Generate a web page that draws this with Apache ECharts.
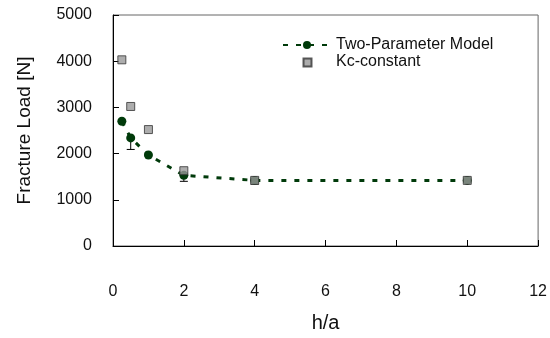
<!DOCTYPE html>
<html>
<head>
<meta charset="utf-8">
<script src="https://cdn.jsdelivr.net/npm/echarts@6/dist/echarts.min.js"></script>
<style>
  html, body { margin: 0; padding: 0; background: #fff; }
  #chart { width: 550px; height: 338px; }
</style>
</head>
<body>
<div id="chart"></div>
<script>
// h/a ratios tested
var ratios = [0.25, 0.5, 1, 2, 4, 10];
// Fracture load predicted by the two-parameter model [N]
var twoParam = [2700, 2340, 1970, 1530, 1420, 1420];
// Fracture load with constant Kc [N]
var kcConst = [4030, 3020, 2520, 1630, 1420, 1420];
// Lower end of the scatter bars on the model points [N] (null = none)
var errLow = [null, 2090, null, 1400, 1340, null];

var FONT = '"Liberation Sans", Arial, sans-serif';

var errData = [];
ratios.forEach(function (r, i) {
  if (errLow[i] != null) errData.push([r, errLow[i], twoParam[i]]);
});

// Small square centred in a wide legend slot (the stray move-to points set the box)
var squareIcon = 'path://M0 0M48 9M20.5 1h8v8h-8z';

var chart = echarts.init(document.getElementById('chart'), null, { renderer: 'canvas' });

chart.setOption({
  animation: false,
  backgroundColor: '#ffffff',
  textStyle: { fontFamily: FONT },
  grid: {
    left: 113, right: 10, top: 15, bottom: 88,
    show: true, borderColor: '#666', borderWidth: 1, backgroundColor: 'transparent'
  },
  legend: {
    left: 277, top: 32,
    orient: 'vertical',
    itemWidth: 48, itemHeight: 10, itemGap: 1,
    textStyle: { fontFamily: FONT, fontSize: 16, color: '#111' },
    data: [
      { name: 'Two-Parameter Model' },
      { name: 'Kc-constant', icon: squareIcon }
    ]
  },
  xAxis: {
    type: 'value', min: 0, max: 12, interval: 2,
    name: 'h/a', nameLocation: 'middle', nameGap: 67,
    nameTextStyle: { fontFamily: FONT, fontSize: 20, color: '#111' },
    axisLine: { show: true, onZero: false, lineStyle: { color: '#000', width: 1 } },
    axisTick: { show: true, inside: true, length: 6, lineStyle: { color: '#000' } },
    axisLabel: { margin: 38, fontFamily: FONT, fontSize: 16, color: '#111' },
    splitLine: { show: false }
  },
  yAxis: {
    type: 'value', min: 0, max: 5000, interval: 1000,
    name: 'Fracture Load [N]', nameLocation: 'middle', nameGap: 79, nameRotate: 90,
    nameTextStyle: { fontFamily: FONT, fontSize: 19, color: '#111' },
    axisLine: { show: true, lineStyle: { color: '#000', width: 1 } },
    axisTick: { show: true, inside: true, length: 6, lineStyle: { color: '#000' } },
    axisLabel: {
      margin: 21, fontFamily: FONT, fontSize: 16, color: '#111',
      formatter: function (v) { return String(v); }
    },
    splitLine: { show: false }
  },
  series: [
    {
      name: 'error',
      type: 'custom',
      z: 1,
      silent: true,
      renderItem: function (params, api) {
        var x = api.value(0);
        var lo = api.coord([x, api.value(1)]);
        var hi = api.coord([x, api.value(2)]);
        var cap = 4;
        var style = { stroke: '#000', lineWidth: 1 };
        return {
          type: 'group',
          children: [
            { type: 'line', shape: { x1: lo[0], y1: lo[1], x2: hi[0], y2: hi[1] }, style: style },
            { type: 'line', shape: { x1: lo[0] - cap, y1: lo[1], x2: lo[0] + cap, y2: lo[1] }, style: style }
          ]
        };
      },
      encode: { x: 0, y: [1, 2] },
      data: errData
    },
    {
      name: 'Two-Parameter Model',
      type: 'line',
      z: 3,
      data: ratios.map(function (r, i) { return [r, twoParam[i]]; }),
      symbol: 'circle',
      symbolSize: 9,
      itemStyle: { color: '#003a0a' },
      lineStyle: { color: '#003a0a', width: 3, type: [5, 8] }
    },
    {
      name: 'Kc-constant',
      type: 'scatter',
      z: 4,
      data: ratios.map(function (r, i) { return [r, kcConst[i]]; }),
      symbol: 'rect',
      symbolSize: 8,
      itemStyle: { color: '#999999', borderColor: '#333333', borderWidth: 1 }
    }
  ]
});
</script>
</body>
</html>
